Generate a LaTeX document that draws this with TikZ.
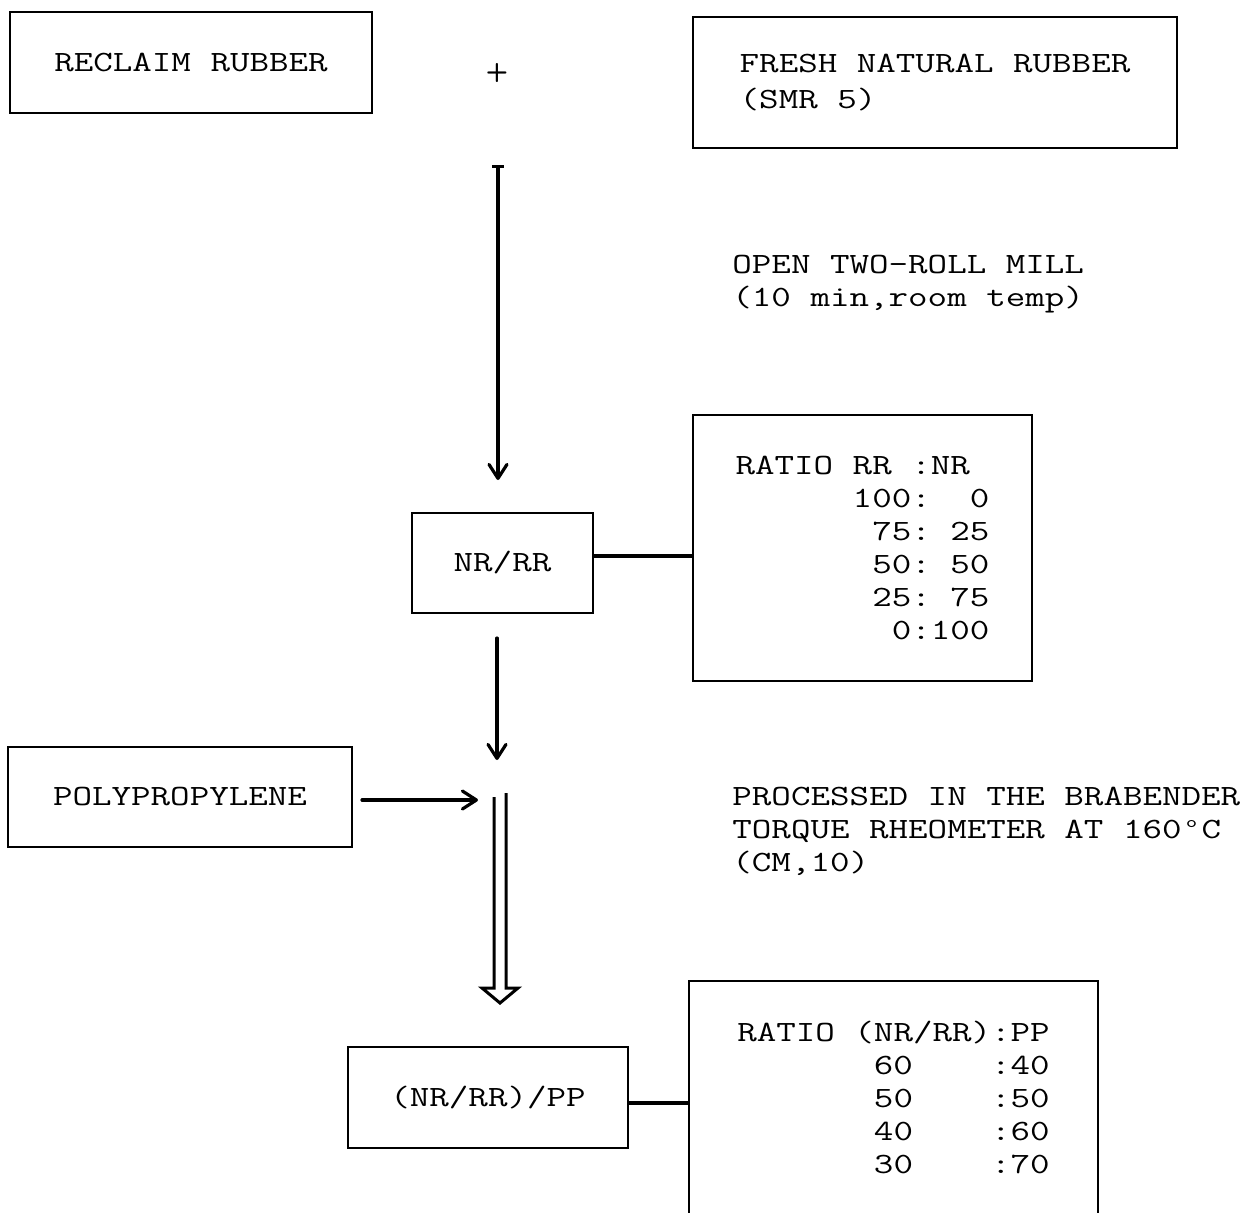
\documentclass[tikz,border=0pt]{standalone}
\usepackage{graphicx}
\usetikzlibrary{arrows.meta,calc}
\newcommand\tw[1]{\scalebox{1.29}[1]{#1}}
\newcommand\tf{\fontsize{14.7}{16.5}\selectfont\ttfamily}
\newcommand\degsign{\makebox[0.525em]{\raisebox{5.2pt}{\fontsize{8}{8}\selectfont o}}}
\begin{document}
\begin{tikzpicture}[x=0.5pt,y=-0.5pt,
  box/.style={draw,line width=1pt,inner sep=0pt,font=\tf},
  txt/.style={font=\tf,align=left,anchor=west,inner sep=0pt},
  arr/.style={line width=1.6pt,line cap=round,-{Straight Barb[length=7pt,width=9pt,round]}},
  conn/.style={line width=2.2pt}]
\useasboundingbox (0,0) rectangle (1258,1212);
\clip (0,0) rectangle (1258,1212);
\fill[white] (0,0) rectangle (1258,1212);

% boxes and texts
\node[box,minimum width=181pt,minimum height=50.5pt] (rr) at (191,62.5) {\tw{RECLAIM RUBBER}};
\node[inner sep=0pt,font=\sffamily\bfseries\fontsize{13}{13}\selectfont] (plus) at (497,73) {+};
\node[box,minimum width=242pt,minimum height=65.5pt,align=left,
      font=\fontsize{14.7}{18}\selectfont\ttfamily] (fnr) at (935,82.5)
  {\tw{FRESH NATURAL RUBBER}\\\tw{(SMR 5)}};
\node[txt] (mill) at (732,284) {\tw{OPEN TWO-ROLL MILL}\\\tw{(10 min,room temp)}};
\node[box,minimum width=90.5pt,minimum height=50pt] (nr) at (502.5,563) {\tw{NR/RR}};
\node[box,minimum width=169.5pt,minimum height=133pt,align=left] (r1) at (862.5,548)
  {\tw{RATIO RR :NR}\\\tw{~~~~~~100:~~0}\\\tw{~~~~~~~75:~25}\\\tw{~~~~~~~50:~50}\\\tw{~~~~~~~25:~75}\\\tw{~~~~~~~~0:100}};
\node[box,minimum width=172pt,minimum height=50pt] (pp) at (180,797) {\tw{POLYPROPYLENE}};
\node[txt] (proc) at (732,831)
  {\tw{PROCESSED IN THE BRABENDER}\\\tw{TORQUE RHEOMETER AT 160\degsign C}\\\tw{(CM,10)}};
\node[box,minimum width=140pt,minimum height=50.5pt] (blend) at (488,1097.5) {\tw{(NR/RR)/PP}};
\node[box,minimum width=204.5pt,minimum height=116.5pt,align=left] (r2) at (893.5,1097.5)
  {\tw{RATIO (NR/RR):PP}\\\tw{~~~~~~~60~~~~:40}\\\tw{~~~~~~~50~~~~:50}\\\tw{~~~~~~~40~~~~:60}\\\tw{~~~~~~~30~~~~:70}};

% coordinates
\coordinate (a1s) at (498,165);
\coordinate (a1e) at (498,480);
\coordinate (a2s) at (497,638);
\coordinate (a2e) at (497,760);
\coordinate (a3e) at (478,800);
\coordinate (y1) at (0,556);
\coordinate (y2) at (0,1103);
\coordinate (dtop) at (500,795);
\coordinate (dtip) at (500,1003);

% arrows
\draw[arr,{Bar[width=6pt]}-{Straight Barb[length=7pt,width=9pt,round]}] (a1s) -- (a1e);
\draw[arr] (a2s) -- (a2e);
\draw[arr] ([xshift=4.5pt]pp.east |- a3e) -- (a3e);
\draw[conn] (nr.east |- y1) -- (r1.west |- y1);
\draw[conn] (blend.east |- y2) -- (r2.west |- y2);

% hollow double arrow
\draw[line width=1.5pt,line join=miter]
  ($(dtop)+(-6,2)$) -- ($(dtip)+(-6,-15)$) -- ($(dtip)+(-18,-15)$) -- (dtip)
  -- ($(dtip)+(18,-15)$) -- ($(dtip)+(6,-15)$) -- ($(dtop)+(6,-2)$);
\end{tikzpicture}
\end{document}
